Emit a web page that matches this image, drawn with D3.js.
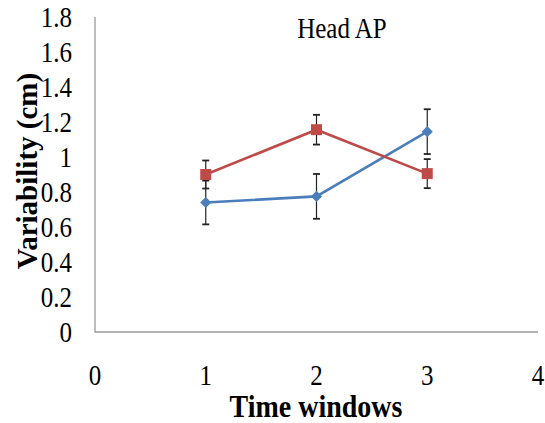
<!DOCTYPE html>
<html>
<head>
<meta charset=utf-8>
<style>
body {margin: 0; background: #fff;}
svg text {font-family: 'Liberation Serif', 'Times New Roman', serif; fill: #000;}
</style>
</head>
<body>
<svg id=chart width=545 height=423></svg>
<script src='https://cdn.jsdelivr.net/npm/d3@7/dist/d3.min.js'></script>
<script>
// data
var windows = [1, 2, 3];
var blueVals = [0.74, 0.775, 1.145];
var blueErr = [0.125, 0.128, 0.128];
var redVals = [0.90, 1.156, 0.905];
var redErr = [0.08, 0.085, 0.083];
var xTicks = [0, 1, 2, 3, 4];
var yTicks = [0, 0.2, 0.4, 0.6, 0.8, 1, 1.2, 1.4, 1.6, 1.8];

var svg = d3.select('#chart');
var x = d3.scaleLinear().domain([0, 4]).range([95, 538]);
var y = d3.scaleLinear().domain([0, 1.8]).range([332, 17]);
var stretch = 1.15; //text in the picture is a bit taller than wide

function tr(px, py){ return 'translate(' + px + ',' + py + ') scale(1,' + stretch + ')'; }

//axis lines
svg.append('path')
    .attr('d', 'M' + x(0) + ',' + y(1.8) + 'V' + y(0) + 'H' + x(4))
    .attr('fill', 'none')
    .attr('stroke', '#9a9a9a')
    .attr('stroke-width', 1.3);

//tick labels
svg.selectAll('.ylab')
  .data(yTicks)
  .enter().append('text')
    .attr('class', 'ylab')
    .attr('transform', function(d) { return tr(72, y(d) + 10); })
    .attr('text-anchor', 'end')
    .style('font-size', '25px')
    .text(function(d) { return +d.toFixed(1); });

svg.selectAll('.xlab')
  .data(xTicks)
  .enter().append('text')
    .attr('class', 'xlab')
    .attr('transform', function(d) { return tr(x(d), 385); })
    .attr('text-anchor', 'middle')
    .style('font-size', '25px')
    .text(function(d) { return d; });

//titles
svg.append('text')
    .attr('transform', tr(342, 38))
    .attr('text-anchor', 'middle')
    .style('font-size', '25px')
    .text('Head AP');

svg.append('text')
    .attr('transform', tr(316, 417))
    .attr('text-anchor', 'middle')
    .style('font-size', '28px')
    .style('font-weight', 'bold')
    .text('Time windows');

svg.append('text')
    .attr('transform', 'translate(37,171) rotate(-90)')
    .attr('text-anchor', 'middle')
    .style('font-size', '29px')
    .style('font-weight', 'bold')
    .text('Variability (cm)');

function drawSeries(vals, errs, color, symbol, size, rot){
  var pts = windows.map(function(w, i) { return {x: w, v: vals[i], e: errs[i]}; });
  var g = svg.append('g');
  g.append('path')
      .datum(pts)
      .attr('fill', 'none')
      .attr('stroke', color)
      .attr('stroke-width', 2.6)
      .attr('d', d3.line().x(function(d) { return x(d.x); }).y(function(d) { return y(d.v); }));
  var eb = g.selectAll('.eb').data(pts).enter().append('g').attr('class', 'eb')
      .attr('stroke', '#222').attr('stroke-width', 1.2);
  eb.append('line')
      .attr('x1', function(d) { return x(d.x); }).attr('x2', function(d) { return x(d.x); })
      .attr('y1', function(d) { return y(d.v + d.e); }).attr('y2', function(d) { return y(d.v - d.e); });
  [1, -1].forEach(function(s){
    eb.append('line')
        .attr('x1', function(d) { return x(d.x) - 3.5; }).attr('x2', function(d) { return x(d.x) + 3.5; })
        .attr('y1', function(d) { return y(d.v + s * d.e); }).attr('y2', function(d) { return y(d.v + s * d.e); })
        .attr('stroke-width', 1.8);
  });
  g.selectAll('.mk').data(pts).enter().append('path')
      .attr('class', 'mk')
      .attr('d', d3.symbol().type(symbol).size(size))
      .attr('transform', function(d) { return 'translate(' + x(d.x) + ',' + y(d.v) + ') rotate(' + rot + ')'; })
      .attr('fill', color);
}

drawSeries(blueVals, blueErr, '#4a7ebb', d3.symbolSquare, 62, 45);
drawSeries(redVals, redErr, '#be4b48', d3.symbolSquare, 121, 0);
</script>
</body>
</html>
